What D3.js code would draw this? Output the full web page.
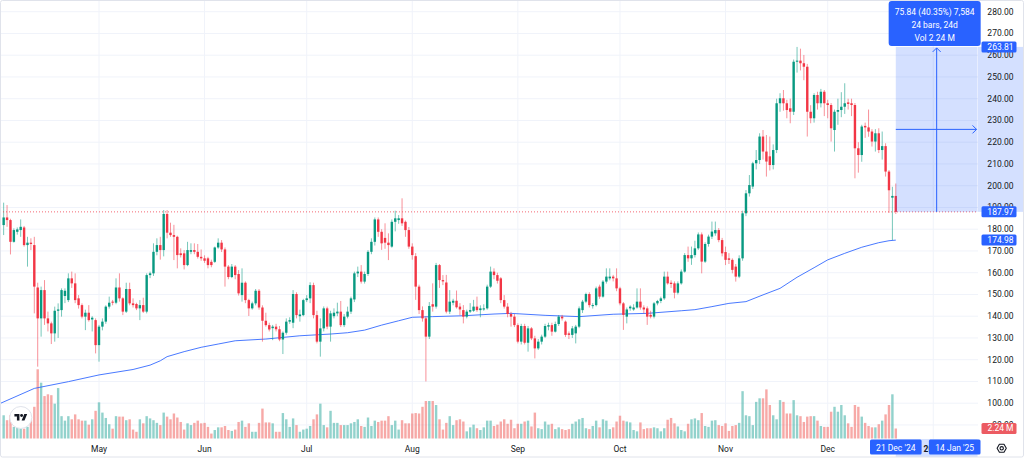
<!DOCTYPE html>
<html>
<head>
<meta charset="utf-8">
<script src="https://cdnjs.cloudflare.com/ajax/libs/d3/7.8.5/d3.min.js"></script>
<style>
  html, body { margin: 0; padding: 0; background: #fff; }
  svg { display: block; font-family: Roboto, "Liberation Sans", sans-serif; }
</style>
</head>
<body>
<svg id="chart" width="1024" height="459"></svg>
<script>
// daily bars, one array per month: [open, high, low, close]
const aprBars = [
  [181.9,192.2,177.3,185.4],[185.4,191.1,181.1,184.2],[184.2,184.8,168.4,174.2],[174.2,180.4,173.8,179.6],[178.8,180.8,177.5,179.9],
  [179.6,184.5,176.5,181.1],[180.8,181.5,172.0,172.7],[172.7,176.5,162.8,173.8],[173.8,175.8,170.4,173.2],[172.7,176.5,141.3,153.6],
  [153.2,155.4,116.8,139.0],[139.0,153.6,130.6,152.0],[152.0,156.6,136.0,139.0],[139.0,142.1,133.0,136.7],[136.7,137.5,127.2,132.1],
  [132.1,144.4,128.3,142.5],[142.5,145.9,130.0,143.1],[142.8,152.8,139.8,152.0],[149.3,152.8,146.0,151.7],[147.4,159.7,146.5,157.4],
  [157.4,160.5,153.0,155.1],[155.1,159.7,146.0,147.4],[148.2,149.7,143.5,145.1],[145.1,145.9,139.0,139.8],[139.8,143.0,133.6,141.6],
  [141.6,145.1,137.5,138.2],[138.5,140.0,133.0,139.3],[138.2,139.0,122.9,126.7]
];
const mayBars = [
  [126.7,136.0,119.1,135.2],[135.2,139.0,133.5,137.5],[137.5,145.0,136.5,144.4],[144.4,149.0,143.5,146.2],[146.7,147.5,145.0,146.2],
  [146.2,157.4,145.5,153.2],[153.2,159.7,146.7,148.2],[148.2,148.7,140.5,142.1],[142.1,155.4,141.5,152.5],[152.5,155.4,145.0,145.9],
  [145.9,148.2,144.0,145.1],[145.6,146.2,142.8,143.6],[143.6,147.4,138.2,145.1],[145.1,148.5,141.5,142.1],[142.1,159.7,141.3,158.9],
  [158.9,160.5,157.5,159.7],[159.7,173.5,158.5,169.6],[169.6,175.8,168.0,172.7],[172.7,176.5,166.0,170.4],[170.4,188.8,167.5,187.0],
  [187.0,188.8,175.8,178.4],[178.4,183.0,176.5,177.3],[177.3,182.0,165.8,176.5],[176.5,177.0,162.0,168.1],[168.9,171.2,167.0,168.1],
  [168.9,170.4,161.5,163.5],[163.5,174.2,163.0,170.4],[169.6,173.5,168.5,170.4],[170.4,173.5,168.5,169.6],[169.6,173.2,166.5,167.3],
  [167.3,170.7,165.5,166.6]
];
const junBars = [
  [166.6,168.0,164.5,165.5],[166.6,167.3,162.0,163.5],[165.0,166.0,162.5,163.5],[165.0,172.0,164.5,171.6],[171.6,175.8,171.0,173.8],
  [173.8,175.0,169.5,170.7],[170.7,171.6,153.6,162.8],[162.8,163.5,157.0,158.0],[158.0,164.0,157.5,162.8],[162.8,163.5,157.0,158.9],
  [159.4,161.2,149.5,150.5],[149.7,162.0,146.7,155.4],[155.4,156.0,146.0,147.4],[147.4,148.0,140.1,143.6],[143.6,146.7,143.0,145.9],
  [145.9,152.5,145.0,151.7],[151.7,152.5,143.0,144.0],[144.0,145.0,128.3,137.9],[137.9,141.6,135.2,135.9],[135.9,137.0,133.0,133.9],
  [134.5,136.0,129.0,135.2],[135.2,136.5,133.0,134.0],[134.0,135.5,128.5,129.3],[129.3,133.0,122.6,132.4],[132.4,139.0,131.5,137.5],
  [137.5,139.5,136.5,138.2],[137.0,152.0,134.5,150.2],[150.2,151.0,139.0,140.5],[140.0,143.0,137.5,140.8],[140.5,148.0,140.0,147.4]
];
const julBars = [
  [147.4,149.7,146.5,148.2],[148.2,155.6,146.0,154.3],[154.3,155.4,139.0,140.5],[140.5,142.5,127.5,128.3],[128.3,139.0,121.4,134.4],
  [134.4,144.5,133.0,143.6],[143.6,144.4,134.0,135.2],[135.2,142.5,128.3,141.3],[140.0,143.6,139.0,141.6],[141.3,146.2,140.0,142.1],
  [142.1,147.0,135.0,135.9],[135.9,141.0,135.0,139.8],[139.8,144.4,139.0,142.1],[142.1,149.0,141.0,148.2],[147.7,160.5,146.5,159.7],
  [159.7,162.8,158.0,160.5],[160.5,163.5,155.0,155.9],[155.9,160.5,155.0,159.4],[159.4,170.4,158.5,169.6],[169.6,175.8,168.5,174.2],
  [174.2,185.4,172.5,184.5],[184.5,185.4,176.5,178.8],[178.8,180.0,170.5,173.5],[176.0,182.7,171.0,173.8],[173.8,178.1,165.8,172.7],
  [172.0,184.5,171.5,183.4],[183.4,188.5,179.0,185.0],[184.2,186.5,182.5,185.0],[185.0,194.2,181.5,182.7],[183.4,184.0,176.5,179.6],
  [179.6,181.0,171.0,172.0]
];
const augBars = [
  [172.0,173.5,166.0,168.1],[167.6,169.0,147.5,153.6],[153.6,154.5,141.0,142.8],[142.8,144.5,137.5,139.0],[139.0,140.0,110.0,130.6],
  [130.6,146.5,129.5,144.7],[145.5,155.1,142.1,144.4],[144.4,164.5,143.5,163.5],[163.5,164.0,153.0,156.6],[156.6,158.9,154.3,156.0],
  [155.5,159.0,141.3,142.1],[142.1,152.0,141.0,146.7],[146.2,148.0,145.0,147.1],[147.1,151.8,143.5,144.1],[144.4,146.0,140.5,143.1],
  [142.8,145.1,136.7,139.8],[139.8,143.0,139.0,142.1],[142.1,146.0,141.5,142.8],[142.5,147.5,142.0,144.4],[144.4,149.0,142.0,142.8],
  [142.8,145.0,139.5,143.6],[143.1,145.5,142.5,143.6],[143.6,154.5,143.0,153.6],[153.6,162.8,153.0,160.5],[160.5,162.0,157.0,158.9],
  [158.9,160.0,155.0,156.3],[157.4,158.0,146.0,147.4],[147.4,149.7,143.5,144.4],[144.4,146.0,139.5,141.0],[141.0,142.0,135.2,139.8],
  [139.8,141.0,135.0,135.9]
];
const sepBars = [
  [135.9,136.7,127.5,128.3],[128.3,136.5,127.0,135.5],[135.5,136.5,127.0,127.8],[127.8,135.5,123.7,134.4],[134.4,135.0,129.0,129.8],
  [129.8,131.0,120.6,125.2],[125.2,129.5,124.5,128.3],[128.3,131.5,127.0,130.6],[130.6,136.5,130.0,135.5],[135.2,137.0,133.5,135.9],
  [135.9,137.0,131.0,132.9],[132.9,137.5,132.5,136.4],[136.4,140.5,135.5,139.8],[139.8,140.6,138.0,139.0],[137.5,138.0,130.5,131.4],
  [132.1,133.0,129.5,131.4],[131.4,135.5,130.0,134.4],[132.1,136.0,127.5,135.2],[135.2,144.5,134.5,143.6],[142.8,147.5,141.5,146.7],
  [146.7,150.8,146.0,150.2],[150.2,151.0,144.0,145.1],[144.7,146.0,143.5,145.1],[145.1,153.6,144.5,152.8],[153.6,154.5,148.0,149.0],
  [149.0,156.6,148.5,155.9],[155.9,162.0,155.0,158.2],[157.4,162.0,156.5,158.2],[158.2,159.0,156.0,157.4],[157.4,162.0,151.5,152.8]
];
const octBars = [
  [152.8,153.5,145.0,145.9],[145.9,146.5,133.7,140.6],[139.8,144.0,136.7,143.1],[143.6,145.0,142.5,144.4],[143.1,145.5,142.5,144.0],
  [144.0,152.8,143.5,146.7],[146.7,152.8,143.0,144.0],[144.0,145.0,141.3,143.1],[143.6,144.5,136.0,139.8],[140.6,142.5,139.0,139.8],
  [139.8,146.5,139.0,145.9],[145.9,147.5,145.0,147.0],[147.0,149.0,146.0,148.2],[148.2,160.5,147.5,158.2],[158.2,160.5,154.5,155.1],
  [155.4,156.5,153.0,154.8],[155.1,156.0,148.2,150.8],[150.8,156.0,150.0,155.1],[155.1,161.5,154.5,160.5],[160.5,169.0,160.0,168.1],
  [168.1,172.0,165.0,166.6],[166.6,172.0,163.6,168.1],[168.1,174.7,167.0,171.2],[171.2,178.5,170.5,177.6],[177.6,178.5,159.7,165.1],
  [165.1,174.0,164.5,173.2],[173.2,177.5,172.0,176.6],[176.6,183.5,175.5,178.9],[178.1,183.5,177.0,179.6],[179.6,180.5,174.0,175.0],
  [175.0,176.0,167.5,168.9]
];
const novBars = [
  [169.5,172.0,163.5,165.9],[166.6,169.0,164.0,165.9],[165.9,166.6,159.7,161.3],[162.8,164.0,155.9,158.2],[158.2,168.0,157.5,166.6],
  [166.6,188.5,165.5,187.3],[187.3,198.0,186.0,196.5],[196.5,204.9,195.0,200.3],[199.6,211.0,198.5,210.3],[210.3,216.4,207.5,211.8],
  [211.8,224.1,210.0,222.6],[222.6,225.6,212.0,215.7],[215.7,223.3,204.2,211.1],[213.5,222.6,207.0,209.5],[209.5,219.0,207.5,216.4],
  [216.4,240.0,215.0,237.9],[237.9,242.5,234.0,240.2],[240.2,244.0,234.5,237.9],[237.9,239.5,231.0,234.8],[235.6,240.0,228.7,234.0],
  [234.0,258.0,232.5,257.0],[257.0,263.8,252.0,257.5],[257.5,263.0,253.0,256.3],[256.3,260.1,248.5,254.7],[254.7,256.0,222.6,234.0],
  [234.0,237.0,228.7,231.0],[231.0,242.5,229.0,241.7],[241.7,243.2,235.0,237.9],[237.9,244.5,236.0,243.2],[243.2,244.0,232.0,237.9]
];
const decBars = [
  [237.9,239.5,231.0,237.1],[237.1,238.0,220.3,226.4],[225.6,235.0,215.7,234.0],[234.0,240.0,228.0,234.8],[234.8,243.0,231.5,236.3],
  [236.3,247.1,233.0,237.9],[238.3,240.0,235.0,237.6],[237.9,240.0,232.0,237.1],[237.1,238.0,203.4,217.2],[217.2,220.0,206.0,214.1],
  [214.1,228.0,211.0,227.2],[227.5,229.0,222.0,226.8],[226.8,235.0,222.5,224.9],[224.9,226.0,218.0,220.3],[220.3,226.0,215.7,224.1],
  [224.1,226.4,215.0,216.4],[216.4,224.9,212.0,218.2],[218.2,219.5,204.2,206.5],[206.5,207.2,187.5,197.9],[194.5,199.5,175.0,195.3],
  [195.3,201.0,187.0,187.97]
];

// volume per day, millions
const aprVol = [5.2,4.1,5.2,2.6,3.4,2.2,2.2,2.6,4.2,7.1,15.5,12.5,9.5,9.9,9.7,7.8,11.3,5.0,4.0,5.0,4.3,5.4,4.3,4.0,4.0,3.1,4.3,6.2];
const mayVol = [8.1,5.8,4.6,3.2,2.2,5.0,4.9,4.9,4.1,4.3,2.0,1.5,4.3,3.4,5.0,4.5,4.1,3.5,3.0,5.8,4.9,4.3,5.6,4.7,3.7,2.0,3.4,3.0,3.5,4.0,3.4];
const junVol = [3.5,2.6,1.1,1.9,2.5,2.5,2.8,1.9,1.7,2.0,3.7,4.0,2.6,3.4,1.5,1.5,3.5,6.7,3.6,3.6,3.4,1.5,1.5,5.7,4.3,2.6,4.5,3.0,1.5,2.0];
const julVol = [2.2,2.8,4.3,5.4,7.8,3.0,2.5,6.2,3.5,3.5,3.0,3.0,3.0,3.4,3.7,4.3,2.8,2.6,4.7,2.8,4.0,3.7,4.0,4.0,5.0,3.0,4.0,2.0,4.1,3.4,3.4];
const augVol = [5.6,5.7,5.6,7.1,8.4,8.4,8.4,7.5,4.3,2.0,3.5,5.0,3.0,4.1,4.3,3.8,1.6,2.5,3.1,2.3,1.9,2.5,4.0,4.0,2.8,3.1,3.8,4.3,3.3,4.2,2.3];
const sepVol = [3.3,3.3,3.8,4.0,2.7,5.8,2.3,2.1,3.8,3.1,3.3,2.1,2.5,2.1,1.9,2.1,3.3,3.8,4.3,4.6,2.3,2.1,2.8,4.0,2.5,4.3,4.0,2.1,2.5,3.8];
const octVol = [5.1,4.0,3.8,3.6,1.9,1.6,3.6,2.1,2.3,2.3,2.5,2.3,1.6,2.3,4.2,4.6,3.4,2.7,1.9,1.6,3.3,4.3,4.5,4.1,5.7,2.8,2.6,4.0,4.1,3.0,2.8];
const novVol = [3.4,1.7,2.8,3.0,3.5,10.6,5.2,5.0,3.0,8.2,9.0,9.0,11.0,7.5,5.2,4.3,8.6,8.2,5.6,5.6,8.6,5.2,5.0,3.7,4.9,5.0,5.0,4.0,2.8,2.6];
const decVol = [2.6,6.0,7.1,6.0,7.5,5.2,3.4,2.6,7.5,7.1,4.9,3.5,2.8,2.5,2.5,3.2,4.0,5.4,7.5,9.9,2.24];

const monthStarts = ['2024-04-03','2024-05-01','2024-06-01','2024-07-01','2024-08-01','2024-09-01','2024-10-01','2024-11-01','2024-12-01'];
const monthBars = [aprBars, mayBars, junBars, julBars, augBars, sepBars, octBars, novBars, decBars];
const monthVol = [aprVol, mayVol, junVol, julVol, augVol, sepVol, octVol, novVol, decVol];

// moving average
const maDates = ['2024-04-02','2024-04-12','2024-04-22','2024-05-01','2024-05-11','2024-05-16','2024-05-19','2024-05-21','2024-05-26','2024-05-31',
  '2024-06-05','2024-06-10','2024-06-19','2024-06-29','2024-07-08','2024-07-13','2024-07-18','2024-07-23','2024-07-28','2024-08-01',
  '2024-08-07','2024-08-16','2024-08-25','2024-08-30','2024-09-09','2024-09-19','2024-09-29','2024-10-09','2024-10-19','2024-10-23',
  '2024-10-28','2024-11-02','2024-11-07','2024-11-12','2024-11-17','2024-11-22','2024-11-27','2024-12-01','2024-12-06','2024-12-11',
  '2024-12-16','2024-12-19','2024-12-21'];
const maValues = [99.9,106.8,109.9,113.0,115.5,117.5,119.5,121.4,123.7,125.7,
  127.2,128.7,129.5,131.0,131.8,132.4,133.6,135.9,137.9,139.5,
  139.8,140.2,141.0,141.3,140.4,139.8,140.9,141.3,142.5,143.0,
  144.4,145.9,146.7,149.8,152.8,157.9,162.3,165.9,168.9,171.7,
  173.8,174.7,174.98];

const priceTicks = [90,100,110,120,130,140,150,160,170,180,190,200,210,220,230,240,250,260,270,280];

// measure tool
const measureFrom = '2024-12-21', measureTo = '2025-01-14';
const measureLow = 187.97, measureHigh = 263.81;
const measureLines = ['75.84 (40.35%) 7,584', '24 bars, 24d', 'Vol 2.24 M'];
const lastPrice = 187.97, maLast = 174.98, lastVol = '2.24 M';

const UP = '#089981', DOWN = '#f23645', BLUE = '#2962ff', TEXT = '#131722', GRID = '#f0f3fa';
const plotR = 978, plotB = 439;

const parse = d3.utcParse('%Y-%m-%d');
const data = [];
monthBars.forEach((bars, m) => {
  const start = parse(monthStarts[m]);
  bars.forEach((b, i) => data.push({
    date: d3.utcDay.offset(start, i), o: b[0], h: b[1], l: b[2], c: b[3], v: monthVol[m][i]
  }));
});
const ma = maDates.map((d, i) => ({ date: parse(d), v: maValues[i] }));

const x = d3.scaleUtc().domain([parse('2024-05-01'), parse('2024-12-01')]).range([99, 827.7]);
const y = d3.scaleLinear().domain([100, 280]).range([403.2, 11.7]);
const yVol = d3.scaleLinear().domain([0, 20]).range([438.5, 438.5 - 89.3]);
const bodyW = 2.4;

const svg = d3.select('#chart');
svg.append('rect').attr('width', 1024).attr('height', 459).attr('fill', '#fff');

svg.append('clipPath').attr('id', 'plot')
  .append('rect').attr('x', 0).attr('y', 0).attr('width', plotR).attr('height', plotB);

const plot = svg.append('g').attr('clip-path', 'url(#plot)');

// grid
plot.selectAll('.hgrid').data(priceTicks).enter().append('line')
  .attr('x1', 0).attr('x2', plotR)
  .attr('y1', d => y(d)).attr('y2', d => y(d))
  .attr('stroke', GRID).attr('stroke-width', 1);

const monthTicks = d3.utcMonth.range(parse('2024-05-01'), parse('2025-01-02'));
plot.selectAll('.vgrid').data(monthTicks).enter().append('line')
  .attr('x1', d => x(d)).attr('x2', d => x(d))
  .attr('y1', 0).attr('y2', plotB)
  .attr('stroke', GRID).attr('stroke-width', 1);

// volume
plot.selectAll('.vol').data(data).enter().append('rect')
  .attr('x', d => x(d.date) - bodyW / 2)
  .attr('width', bodyW)
  .attr('y', d => yVol(d.v))
  .attr('height', d => yVol(0) - yVol(d.v))
  .attr('fill', d => d.c >= d.o ? 'rgba(38,166,154,0.5)' : 'rgba(239,83,80,0.5)');

// moving average
plot.append('path').datum(ma)
  .attr('d', d3.line().x(d => x(d.date)).y(d => y(d.v)))
  .attr('fill', 'none').attr('stroke', BLUE).attr('stroke-opacity', 0.85).attr('stroke-width', 1);

// candles
const candle = plot.selectAll('.candle').data(data).enter().append('g');
candle.append('line')
  .attr('x1', d => x(d.date)).attr('x2', d => x(d.date))
  .attr('y1', d => y(d.h)).attr('y2', d => y(d.l))
  .attr('stroke', d => d.c >= d.o ? UP : DOWN)
  .attr('stroke-opacity', 0.55).attr('stroke-width', 1);
candle.append('rect')
  .attr('x', d => x(d.date) - bodyW / 2)
  .attr('width', bodyW)
  .attr('y', d => y(Math.max(d.o, d.c)))
  .attr('height', d => Math.max(1, Math.abs(y(d.o) - y(d.c))))
  .attr('fill', d => d.c >= d.o ? UP : DOWN);

// last price line
plot.append('line')
  .attr('x1', 0).attr('x2', plotR)
  .attr('y1', y(lastPrice)).attr('y2', y(lastPrice))
  .attr('stroke', DOWN).attr('stroke-opacity', 0.75)
  .attr('stroke-dasharray', '1,2');

// measure tool
const mx0 = x(parse(measureFrom)), mx1 = x(parse(measureTo));
const my0 = y(measureLow), my1 = y(measureHigh);
const mxMid = (mx0 + mx1) / 2, myMid = (my0 + my1) / 2;
svg.append('rect')
  .attr('x', mx0).attr('y', my1).attr('width', mx1 - mx0).attr('height', my0 - my1)
  .attr('fill', BLUE).attr('fill-opacity', 0.2);
// price-axis and time-axis highlights
svg.append('rect')
  .attr('x', plotR).attr('y', my1).attr('width', 1024 - plotR).attr('height', my0 - my1)
  .attr('fill', BLUE).attr('fill-opacity', 0.2);
svg.append('rect')
  .attr('x', mx0).attr('y', plotB).attr('width', mx1 - mx0).attr('height', 457 - plotB)
  .attr('fill', BLUE).attr('fill-opacity', 0.2);

const arrows = svg.append('g').attr('stroke', BLUE).attr('stroke-width', 1).attr('fill', 'none');
arrows.append('line').attr('x1', mxMid).attr('x2', mxMid).attr('y1', my0).attr('y2', my1 + 1);
arrows.append('path').attr('d', `M${mxMid - 4},${my1 + 5}L${mxMid},${my1 + 1}L${mxMid + 4},${my1 + 5}`);
arrows.append('line').attr('x1', mx0).attr('x2', mx1 - 1).attr('y1', myMid).attr('y2', myMid);
arrows.append('path').attr('d', `M${mx1 - 5},${myMid - 4}L${mx1 - 1},${myMid}L${mx1 - 5},${myMid + 4}`);

const infoW = 92;
svg.append('rect')
  .attr('x', mxMid - infoW / 2 - 2).attr('y', 1).attr('width', infoW).attr('height', my1 - 2)
  .attr('rx', 3).attr('fill', BLUE);
svg.selectAll('.info').data(measureLines).enter().append('text')
  .attr('x', mxMid - 2).attr('y', (d, i) => 14.5 + i * 13)
  .attr('text-anchor', 'middle').attr('fill', '#fff').attr('font-size', 8.5)
  .text(d => d);

// price axis labels
svg.selectAll('.ptick').data(priceTicks).enter().append('text')
  .attr('x', 1013.5).attr('y', d => y(d)).attr('dy', '0.35em')
  .attr('text-anchor', 'end').attr('fill', TEXT).attr('font-size', 8.5)
  .text(d => d.toFixed(2));

const axisTags = [
  { v: y(measureHigh), text: measureHigh.toFixed(2), color: BLUE },
  { v: y(lastPrice), text: lastPrice.toFixed(2), color: BLUE },
  { v: y(maLast), text: maLast.toFixed(2), color: BLUE },
  { v: yVol(2.24), text: lastVol, color: '#ec5b62' }
];
const tag = svg.selectAll('.tag').data(axisTags).enter().append('g');
tag.append('rect')
  .attr('x', 981.5).attr('y', d => d.v - 5.5).attr('width', 35).attr('height', 11)
  .attr('rx', 1.5).attr('fill', d => d.color);
tag.append('text')
  .attr('x', 1013.5).attr('y', d => d.v).attr('dy', '0.35em')
  .attr('text-anchor', 'end').attr('fill', '#fff').attr('font-size', 8.5)
  .text(d => d.text);

// time axis labels
svg.selectAll('.ttick').data(monthTicks).enter().append('text')
  .attr('x', d => x(d)).attr('y', 452)
  .attr('text-anchor', 'middle').attr('fill', TEXT).attr('font-size', 8.5)
  .attr('font-weight', d => d.getUTCMonth() === 0 ? 'bold' : 'normal')
  .text(d => d.getUTCMonth() === 0 ? d.getUTCFullYear() : d3.utcFormat('%b')(d));

const dateTags = [
  { cx: mx0, text: "21 Dec '24" },
  { cx: Math.min(mx1, 980.5 - 25.8), text: "14 Jan '25" }
];
const dtag = svg.selectAll('.dtag').data(dateTags).enter().append('g');
dtag.append('rect')
  .attr('x', d => d.cx - 25.8).attr('y', 439.5).attr('width', 51.6).attr('height', 15)
  .attr('rx', 1.5).attr('fill', BLUE);
dtag.append('text')
  .attr('x', d => d.cx).attr('y', 450.5)
  .attr('text-anchor', 'middle').attr('fill', '#fff').attr('font-size', 8.5)
  .text(d => d.text);

// settings icon
const gear = svg.append('g').attr('transform', 'translate(1001.7,448.3)')
  .attr('fill', 'none').attr('stroke', TEXT).attr('stroke-width', 1.1);
gear.append('path').attr('d', d3.line().curve(d3.curveLinearClosed)(
  d3.range(6).map(i => [4.6 * Math.cos(Math.PI / 3 * i), 4.6 * Math.sin(Math.PI / 3 * i)])
)).attr('stroke-linejoin', 'round');
gear.append('circle').attr('r', 1.7);

// logo
const logo = svg.append('g');
logo.append('circle').attr('cx', 20.8).attr('cy', 417.5).attr('r', 11)
  .attr('fill', '#fff').attr('stroke', '#e0e3eb');
const mark = logo.append('g').attr('transform', 'translate(14.4,412.6) scale(0.36)').attr('fill', TEXT);
mark.append('path').attr('d', 'M14 22H7V11H0V4h14v18zM28 22h-8l7.5-18h8L28 22z');
mark.append('circle').attr('cx', 20).attr('cy', 8).attr('r', 4);

// frame
svg.append('rect').attr('x', 0.5).attr('y', 0.5).attr('width', 1023).attr('height', 456.5)
  .attr('rx', 2).attr('fill', 'none').attr('stroke', '#e0e3eb');
</script>
</body>
</html>
